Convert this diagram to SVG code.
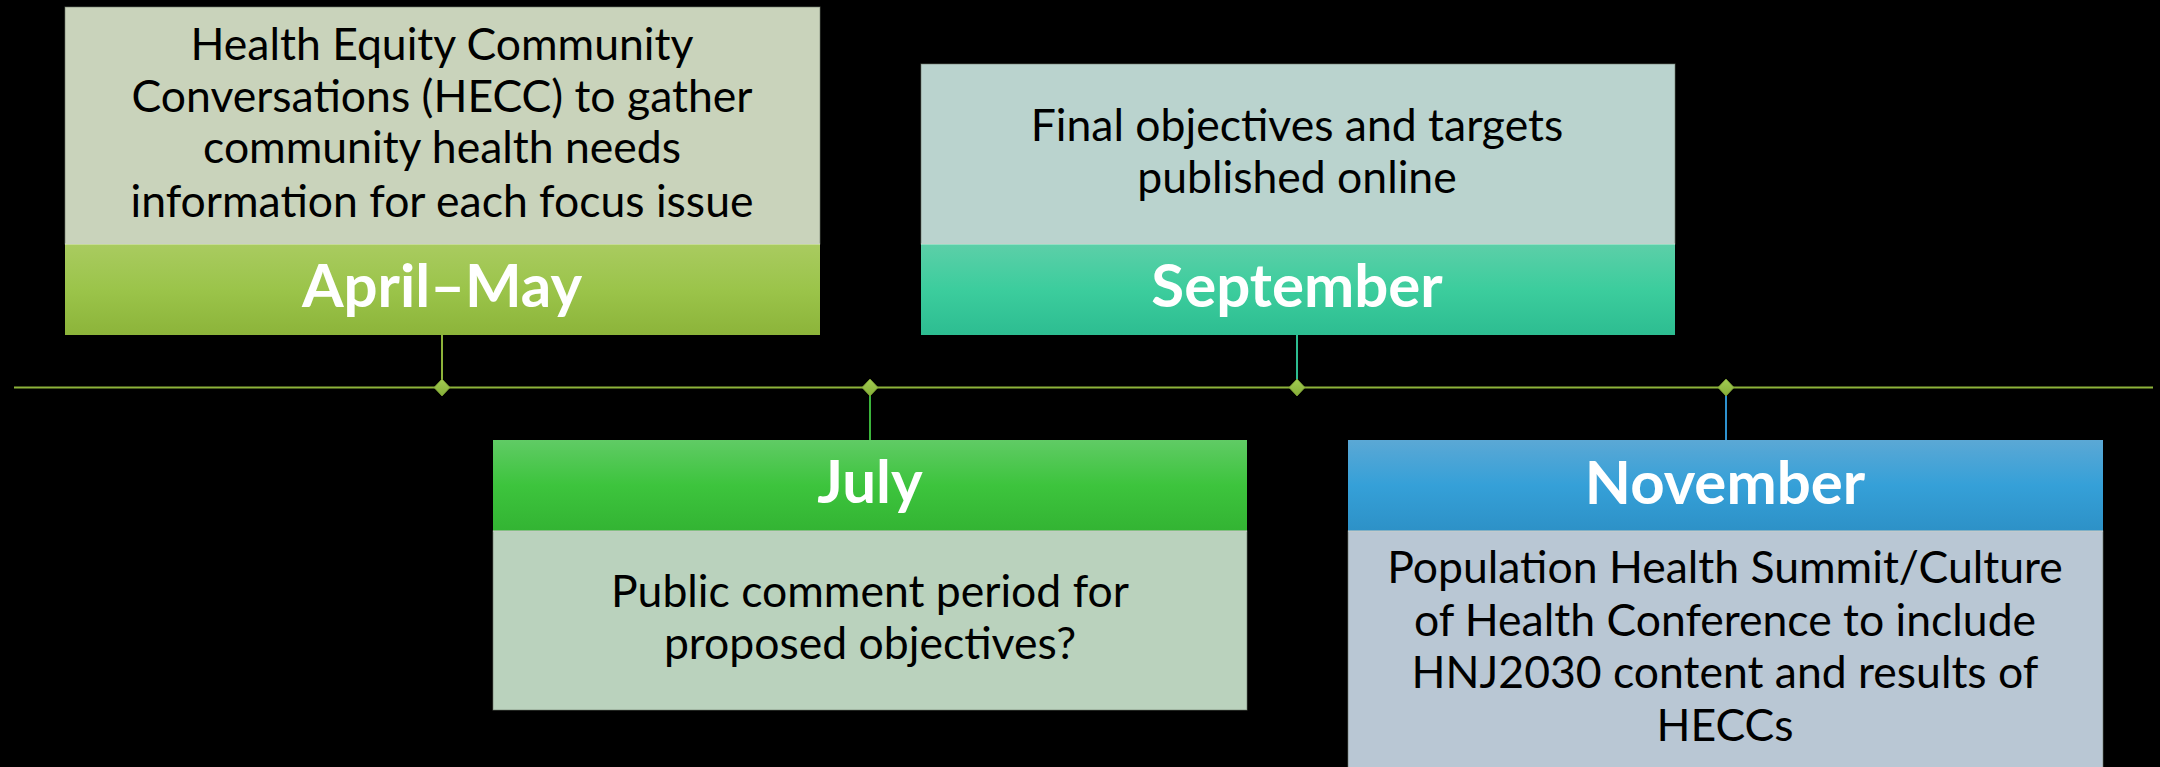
<svg xmlns="http://www.w3.org/2000/svg" width="2160" height="767" viewBox="0 0 2160 767">
  <defs>
    <linearGradient id="gOlive" x1="0" y1="0" x2="0" y2="1">
      <stop offset="0" stop-color="#a9cb60"/>
      <stop offset="0.5" stop-color="#9bc44a"/>
      <stop offset="1" stop-color="#8cb43a"/>
    </linearGradient>
    <linearGradient id="gTeal" x1="0" y1="0" x2="0" y2="1">
      <stop offset="0" stop-color="#5ccfa8"/>
      <stop offset="0.5" stop-color="#3ccd9d"/>
      <stop offset="1" stop-color="#2dbd91"/>
    </linearGradient>
    <linearGradient id="gGreen" x1="0" y1="0" x2="0" y2="1">
      <stop offset="0" stop-color="#60cb65"/>
      <stop offset="0.5" stop-color="#3dc43d"/>
      <stop offset="1" stop-color="#33b433"/>
    </linearGradient>
    <linearGradient id="gBlue" x1="0" y1="0" x2="0" y2="1">
      <stop offset="0" stop-color="#5ba8d5"/>
      <stop offset="0.5" stop-color="#35a0d8"/>
      <stop offset="1" stop-color="#2d91c7"/>
    </linearGradient>
    <linearGradient id="gDiamond" x1="0" y1="0" x2="0" y2="1">
      <stop offset="0" stop-color="#a2cc52"/>
      <stop offset="1" stop-color="#86ae38"/>
    </linearGradient>
  </defs>
  <style>
    .body { stroke: #6f7a6a; stroke-width: 1; stroke-opacity: 0.6; }
    .head { stroke: none; }
    .sep { stroke: #ffffff; stroke-opacity: 0.45; stroke-width: 1.5; }
    .txt { font-family: Lato, "Open Sans", "Liberation Sans", sans-serif; font-size: 44.5px; fill: #000000; text-anchor: middle; }
    .ttl { font-family: Lato, "Open Sans", "Liberation Sans", sans-serif; font-size: 60px; font-weight: bold; fill: #ffffff; text-anchor: middle; }
    .axis { stroke: #8db33a; stroke-width: 2; fill: none; }
    .tick { stroke-width: 2; fill: none; }
    .dia { fill: url(#gDiamond); stroke: #7fa233; stroke-width: 0.8; }
  </style>

  <rect x="0" y="0" width="2160" height="767" fill="#000000"/>

  <!-- timeline axis, stems and markers -->
  <g id="connectors">
    <line class="axis" x1="14" y1="387.5" x2="2153" y2="387.5"/>
    <line class="tick" x1="442" y1="335" x2="442" y2="387" stroke="#8db33a"/>
    <line class="tick" x1="1297" y1="335" x2="1297" y2="387" stroke="#2dbd91"/>
    <line class="tick" x1="870" y1="387" x2="870" y2="440" stroke="#3bb43b"/>
    <line class="tick" x1="1726" y1="387" x2="1726" y2="440" stroke="#2e92cf"/>
    <path class="dia" d="M442 379 L450 387.5 L442 396 L434 387.5 Z"/>
    <path class="dia" d="M870 379 L878 387.5 L870 396 L862 387.5 Z"/>
    <path class="dia" d="M1297 379 L1305 387.5 L1297 396 L1289 387.5 Z"/>
    <path class="dia" d="M1726 379 L1734 387.5 L1726 396 L1718 387.5 Z"/>
  </g>

  <!-- April–May -->
  <g id="node-april-may">
    <rect class="body" x="65" y="7" width="755" height="237" fill="#c9d3bb"/>
    <rect class="head" x="65" y="244" width="755" height="91" fill="url(#gOlive)"/>
    <line class="sep" x1="65" y1="244" x2="820" y2="244"/>
    <text class="txt" x="442" y="60">Health Equity Community</text>
    <text class="txt" x="442" y="112">Conversations (HECC) to gather</text>
    <text class="txt" x="442" y="163">community health needs</text>
    <text class="txt" x="442" y="217">information for each focus issue</text>
    <text class="ttl" x="442" y="307">April–May</text>
  </g>

  <!-- September -->
  <g id="node-september">
    <rect class="body" x="921" y="64" width="754" height="180" fill="#bad3ce"/>
    <rect class="head" x="921" y="244" width="754" height="91" fill="url(#gTeal)"/>
    <line class="sep" x1="921" y1="244" x2="1675" y2="244"/>
    <text class="txt" x="1297" y="141">Final objectives and targets</text>
    <text class="txt" x="1297" y="193">published online</text>
    <text class="ttl" x="1297" y="307">September</text>
  </g>

  <!-- July -->
  <g id="node-july">
    <rect class="head" x="493" y="440" width="754" height="91" fill="url(#gGreen)"/>
    <rect class="body" x="493" y="531" width="754" height="179" fill="#bad2bd"/>
    <line class="sep" x1="493" y1="531" x2="1247" y2="531"/>
    <text class="ttl" x="870" y="503">July</text>
    <text class="txt" x="870" y="607">Public comment period for</text>
    <text class="txt" x="870" y="659">proposed objectives?</text>
  </g>

  <!-- November -->
  <g id="node-november">
    <rect class="head" x="1348" y="440" width="755" height="91" fill="url(#gBlue)"/>
    <rect class="body" x="1348" y="531" width="755" height="250" fill="#b9c7d4"/>
    <line class="sep" x1="1348" y1="531" x2="2103" y2="531"/>
    <text class="ttl" x="1725" y="504">November</text>
    <text class="txt" x="1725" y="583">Population Health Summit/Culture</text>
    <text class="txt" x="1725" y="636">of Health Conference to include</text>
    <text class="txt" x="1725" y="688">HNJ2030 content and results of</text>
    <text class="txt" x="1725" y="741">HECCs</text>
  </g>
</svg>
